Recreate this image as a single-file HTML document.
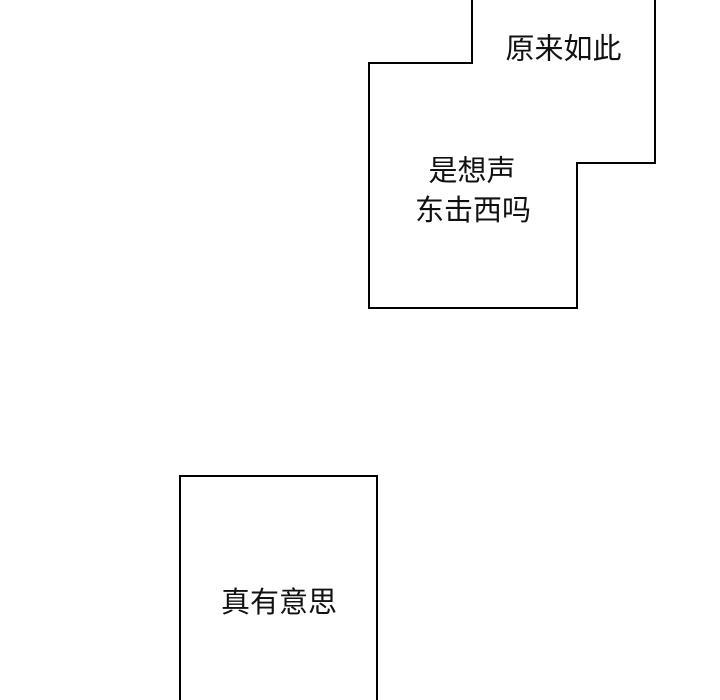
<!DOCTYPE html>
<html><head><meta charset="utf-8"><style>
html,body{margin:0;padding:0;background:#fff;}
svg{display:block}
text{font-family:"Liberation Sans","Noto Sans CJK SC",sans-serif;font-size:29px;fill:#111;text-anchor:middle;dominant-baseline:central}
</style></head><body>
<svg width="720" height="700" viewBox="0 0 720 700">
<rect width="720" height="700" fill="#fff"/>
<polygon points="472,-5 472,63 369,63 369,308 577,308 577,163 655,163 655,-5" fill="#fff" stroke="#000" stroke-width="2"/>
<rect x="180" y="476" width="197" height="240" fill="#fff" stroke="#000" stroke-width="2"/>
<text x="563.5" y="49.5">原来如此</text>
<text x="472" y="171.5">是想声</text>
<text x="473" y="211">东击西吗</text>
<text x="279" y="603">真有意思</text>
</svg>
</body></html>
